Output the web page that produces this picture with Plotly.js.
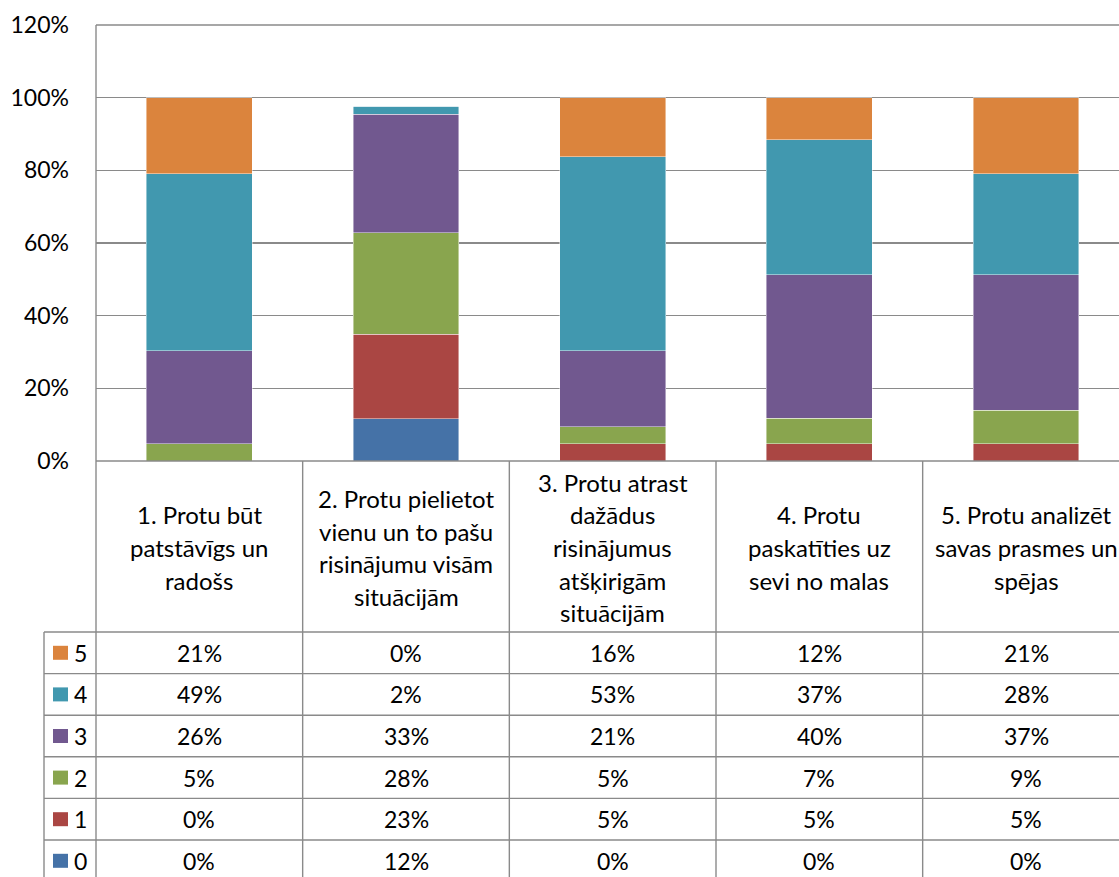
<!DOCTYPE html>
<html>
<head>
<meta charset="utf-8">
<script src="https://cdn.plot.ly/plotly-3.0.1.min.js"></script>
<style>
html,body{margin:0;padding:0;background:#fff;overflow:hidden;}
#chart{width:1119px;height:877px;}
</style>
</head>
<body>
<div id="chart"></div>
<script>
// ---- data ----
const categories = [
  '1. Protu būt patstāvīgs un radošs',
  '2. Protu pielietot vienu un to pašu risinājumu visām situācijām',
  '3. Protu atrast dažādus risinājumus atšķirigām situācijām',
  '4. Protu paskatīties uz sevi no malas',
  '5. Protu analizēt savas prasmes un spējas'
];
const categoryLines = [
  ['1. Protu būt', 'patstāvīgs un', 'radošs'],
  ['2. Protu pielietot', 'vienu un to pašu', 'risinājumu visām', 'situācijām'],
  ['3. Protu atrast', 'dažādus', 'risinājumus', 'atšķirigām', 'situācijām'],
  ['4. Protu', 'paskatīties uz', 'sevi no malas'],
  ['5. Protu analizēt', 'savas prasmes un', 'spējas']
];
const seriesNames = ['0', '1', '2', '3', '4', '5'];
const s0 = [0, 11.6, 0, 0, 0];
const s1 = [0, 23.3, 4.7, 4.7, 4.7];
const s2 = [4.7, 27.9, 4.7, 7.0, 9.3];
const s3 = [25.6, 32.6, 20.9, 39.5, 37.2];
const s4 = [48.8, 2.3, 53.4, 37.2, 27.9];
const s5 = [20.9, 0, 16.3, 11.6, 20.9];
const yTickVals = [0, 20, 40, 60, 80, 100, 120];

const seriesValues = [s0, s1, s2, s3, s4, s5];
const colors = ['#4572A7', '#AA4643', '#89A54E', '#71588F', '#4198AF', '#DB843D'];

// ---- geometry (pixels) ----
const W = 1119, H = 877;
const L = 96, T = 25, B0 = 461;          // plot area left, top, bottom (px)
const plotW = W - L, plotH = B0 - T;
const xMin = -0.5, xMax = 4.45;
const FONT = 'Lato, "Open Sans", sans-serif';
const fsNum = 23, fsHead = 24;
const lineCol = '#8a8a8a';
const px = p => (p - L) / plotW;
const py = p => (B0 - p) / plotH;
const catPx = i => L + (i - xMin) / (xMax - xMin) * plotW;

const traces = seriesValues.map((vals, k) => ({
  type: 'bar',
  name: seriesNames[k],
  x: categories,
  y: vals,
  marker: {color: colors[k], line: {color: 'rgba(255,255,255,0.55)', width: 0.8}},
  hoverinfo: 'skip'
}));

const shapes = [];
const annotations = [];

// top border line (120%)
shapes.push({type:'line', xref:'paper', yref:'paper', x0:0, x1:1, y0:1, y1:1, line:{color:lineCol, width:1.4}});
// left axis line running down through table
shapes.push({type:'line', xref:'paper', yref:'paper', x0:0, x1:0, y0:1, y1:py(H + 2), line:{color:lineCol, width:1.4}});
// x-axis line (0%)
shapes.push({type:'line', xref:'paper', yref:'paper', x0:0, x1:1, y0:0, y1:0, line:{color:lineCol, width:1.4}});

// table vertical lines between categories
for (let i = 1; i < categories.length; i++) {
  const xb = px(catPx(i - 0.5));
  shapes.push({type:'line', xref:'paper', yref:'paper', x0:xb, x1:xb, y0:0, y1:py(H + 2), line:{color:lineCol, width:1.4}});
}
// table rows
const rowTop = 632, rowH = 41.6;
const legendLeft = 44;
for (let r = 0; r <= seriesNames.length; r++) {
  const yy = py(rowTop + r * rowH);
  shapes.push({type:'line', xref:'paper', yref:'paper', x0:px(legendLeft), x1:1, y0:yy, y1:yy, line:{color:lineCol, width:1.4}});
}
// legend column left line
shapes.push({type:'line', xref:'paper', yref:'paper', x0:px(legendLeft), x1:px(legendLeft), y0:py(rowTop), y1:py(H + 2), line:{color:lineCol, width:1.4}});

// category header text
const headTop = B0, headBot = rowTop, lineGap = 32.6;
categoryLines.forEach((lines, i) => {
  const cx = px(catPx(i));
  const mid = (headTop + headBot) / 2 + 1;
  lines.forEach((t, j) => {
    const cy = mid + (j - (lines.length - 1) / 2) * lineGap;
    annotations.push({xref:'paper', yref:'paper', x:cx, y:py(cy), text:t, showarrow:false,
      xanchor:'center', yanchor:'middle', font:{family:FONT, size:fsHead, color:'#000'}});
  });
});

// table rows: series 5 at top down to 0
for (let r = 0; r < seriesNames.length; r++) {
  const k = seriesNames.length - 1 - r;
  const cy = rowTop + r * rowH + rowH / 2;
  // legend key
  shapes.push({type:'rect', xref:'paper', yref:'paper', x0:px(53), x1:px(68), y0:py(cy - 7), y1:py(cy + 7),
    fillcolor:colors[k], line:{width:0}});
  annotations.push({xref:'paper', yref:'paper', x:px(72), y:py(cy), text:seriesNames[k], showarrow:false,
    xanchor:'left', yanchor:'middle', font:{family:FONT, size:fsNum, color:'#000'}});
  seriesValues[k].forEach((v, i) => {
    annotations.push({xref:'paper', yref:'paper', x:px(catPx(i)), y:py(cy), text:Math.round(v) + '%', showarrow:false,
      xanchor:'center', yanchor:'middle', font:{family:FONT, size:fsNum, color:'#000'}});
  });
}

const layout = {
  width: W, height: H,
  margin: {l: L, r: 0, t: T, b: H - B0, pad: 0},
  paper_bgcolor: '#fff', plot_bgcolor: '#fff',
  barmode: 'stack',
  bargap: 0.488,
  showlegend: false,
  hovermode: false,
  font: {family: FONT, size: fsNum, color: '#000'},
  xaxis: {type:'category', range:[xMin, xMax], showticklabels:false, showgrid:false, zeroline:false, showline:false, ticks:'', fixedrange:true},
  yaxis: {range:[0, 120], tickvals:yTickVals, ticktext:yTickVals.map(v => v + '%'), showgrid:true, gridcolor:lineCol, gridwidth:1.4,
    zeroline:false, showline:false, ticks:'', ticklabelstandoff:26, tickfont:{family:FONT, size:fsNum, color:'#000'}, fixedrange:true},
  shapes: shapes,
  annotations: annotations
};

Plotly.newPlot('chart', traces, layout, {displayModeBar:false, staticPlot:true});
</script>
</body>
</html>
